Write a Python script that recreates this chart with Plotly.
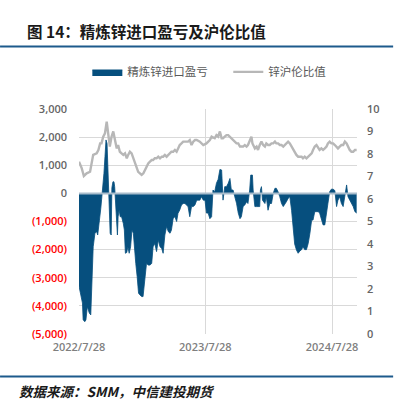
import plotly.graph_objects as go

# ---------------- data ----------------
profit_dates = [
    "2022-07-28","2022-08-03","2022-08-07","2022-08-09","2022-08-14","2022-08-17","2022-08-21","2022-08-24",
    "2022-08-27","2022-08-31","2022-09-03","2022-09-07","2022-09-12","2022-09-17","2022-09-20","2022-09-23",
    "2022-09-27","2022-09-29","2022-10-02","2022-10-04","2022-10-08","2022-10-11","2022-10-14","2022-10-17",
    "2022-10-20","2022-10-22","2022-10-23","2022-10-26","2022-10-29","2022-10-31","2022-11-03","2022-11-06",
    "2022-11-08","2022-11-10","2022-11-13","2022-11-16","2022-11-18","2022-11-21","2022-11-24","2022-11-28",
    "2022-12-03","2022-12-06","2022-12-09","2022-12-13","2022-12-16","2022-12-20","2022-12-24","2022-12-28",
    "2023-01-01","2023-01-05","2023-01-08","2023-01-12","2023-01-16","2023-01-20","2023-01-25","2023-01-29",
    "2023-02-01","2023-02-04","2023-02-08","2023-02-13","2023-02-18","2023-02-23","2023-02-27","2023-03-04",
    "2023-03-09","2023-03-14","2023-03-19","2023-03-24","2023-03-28","2023-04-02","2023-04-07","2023-04-12",
    "2023-04-17","2023-04-21","2023-04-26","2023-05-01","2023-05-06","2023-05-10","2023-05-15","2023-05-20",
    "2023-05-25","2023-05-30","2023-06-04","2023-06-08","2023-06-13","2023-06-18","2023-06-23","2023-06-28",
    "2023-07-03","2023-07-07","2023-07-12","2023-07-17","2023-07-22","2023-07-27","2023-07-31","2023-08-05",
    "2023-08-10","2023-08-15","2023-08-19","2023-08-24","2023-08-29","2023-09-03","2023-09-08","2023-09-13",
    "2023-09-15","2023-09-17","2023-09-22","2023-09-27","2023-10-02","2023-10-07","2023-10-11","2023-10-16",
    "2023-10-21","2023-10-26","2023-10-31","2023-11-05","2023-11-09","2023-11-14","2023-11-19","2023-11-24",
    "2023-11-28","2023-12-03","2023-12-06","2023-12-11","2023-12-13","2023-12-18","2023-12-23","2023-12-27",
    "2024-01-01","2024-01-03","2024-01-06","2024-01-09","2024-01-16","2024-01-20","2024-01-25","2024-01-30",
    "2024-02-04","2024-02-09","2024-02-14","2024-02-18","2024-02-23","2024-02-28","2024-03-04","2024-03-09",
    "2024-03-13","2024-03-18","2024-03-23","2024-03-28","2024-04-02","2024-04-07","2024-04-11","2024-04-16",
    "2024-04-21","2024-04-26","2024-05-01","2024-05-05","2024-05-10","2024-05-15","2024-05-20","2024-05-25",
    "2024-05-30","2024-06-03","2024-06-08","2024-06-13","2024-06-18","2024-06-22","2024-06-27","2024-07-02",
    "2024-07-07","2024-07-12","2024-07-16","2024-07-21","2024-07-26","2024-07-31","2024-08-05","2024-08-10",
    "2024-08-14","2024-08-19","2024-08-24","2024-08-29","2024-09-03","2024-09-08","2024-09-12","2024-09-17",
    "2024-09-22","2024-09-27","2024-10-02","2024-10-07",
]
profit_values = [
    -3300,-3670,-3900,-4500,-4560,-4500,-4030,-4150,
    -4260,-4320,-2960,-1900,-1420,-1360,-1480,-1190,
    -830,-530,-120,120,710,1300,1900,1780,
    600,0,-830,-1420,-1480,200,410,410,
    240,-120,-830,-1480,-830,-590,-830,-830,
    -1070,-1300,-2130,-2100,-1900,-2130,-1900,-1300,
    -1420,-2250,-2490,-2960,-3550,-3610,-3670,-3670,
    -3320,-2730,-2490,-2550,-2550,-2490,-1900,-1780,
    -2070,-1660,-1900,-1960,-2130,-1480,-1180,-1360,
    -1420,-1300,-890,-830,-1000,-710,-590,-410,
    -360,-360,-410,-470,-830,-470,-470,-410,
    -240,-240,-240,-120,-240,-240,-700,-700,
    -900,-830,120,60,360,500,850,830,
    100,-240,240,240,360,530,120,120,
    -120,-350,-700,-900,-830,-470,-410,-300,
    -360,120,650,650,120,-470,-470,-470,
    -470,120,240,-240,-360,-120,-600,-360,
    -360,0,180,180,60,-120,-360,-470,
    -410,-300,-180,-120,-600,-1300,-1800,-2010,
    -2130,-2050,-2000,-1900,-2000,-2000,-1780,-1420,
    -950,-950,-650,-650,-650,-700,-950,-1120,
    -1120,-600,-360,60,150,150,100,-470,
    -240,-120,-360,-470,0,300,-120,-240,
    -360,-470,-650,-700,
]

ratio_dates = [
    "2022-07-28","2022-08-05","2022-08-11","2022-08-19","2022-08-29","2022-09-03","2022-09-07","2022-09-17",
    "2022-09-22","2022-09-27","2022-10-01","2022-10-06","2022-10-11","2022-10-16","2022-10-21","2022-10-25",
    "2022-10-30","2022-11-04","2022-11-09","2022-11-14","2022-11-18","2022-11-23","2022-11-28","2022-12-03",
    "2022-12-08","2022-12-13","2022-12-17","2022-12-22","2022-12-27","2023-01-01","2023-01-06","2023-01-10",
    "2023-01-15","2023-01-20","2023-01-25","2023-01-30","2023-02-03","2023-02-08","2023-02-13","2023-02-18",
    "2023-02-23","2023-02-27","2023-03-04","2023-03-09","2023-03-14","2023-03-19","2023-03-24","2023-03-28",
    "2023-04-02","2023-04-07","2023-04-12","2023-04-17","2023-04-21","2023-04-26","2023-05-01","2023-05-06",
    "2023-05-10","2023-05-15","2023-05-20","2023-05-25","2023-05-30","2023-06-04","2023-06-08","2023-06-13",
    "2023-06-18","2023-06-23","2023-06-28","2023-07-03","2023-07-12","2023-07-22","2023-07-31","2023-08-10",
    "2023-08-15","2023-08-24","2023-08-29","2023-09-03","2023-09-08","2023-09-13","2023-09-17","2023-09-22",
    "2023-09-27","2023-10-02","2023-10-07","2023-10-11","2023-10-16","2023-10-21","2023-10-26","2023-10-31",
    "2023-11-05","2023-11-09","2023-11-14","2023-11-19","2023-11-24","2023-11-28","2023-12-03","2023-12-08",
    "2023-12-11","2023-12-15","2023-12-18","2023-12-23","2023-12-27","2024-01-01","2024-01-06","2024-01-11",
    "2024-01-16","2024-01-20","2024-01-25","2024-01-30","2024-02-04","2024-02-09","2024-02-14","2024-02-18",
    "2024-02-23","2024-02-28","2024-03-04","2024-03-09","2024-03-13","2024-03-18","2024-03-23","2024-03-28",
    "2024-04-02","2024-04-07","2024-04-11","2024-04-16","2024-04-21","2024-04-26","2024-05-01","2024-05-05",
    "2024-05-10","2024-05-15","2024-05-20","2024-05-25","2024-05-30","2024-06-03","2024-06-08","2024-06-13",
    "2024-06-18","2024-06-22","2024-06-27","2024-07-02","2024-07-07","2024-07-12","2024-07-16","2024-07-21",
    "2024-07-26","2024-07-31","2024-08-05","2024-08-10","2024-08-14","2024-08-19","2024-08-24","2024-08-29",
    "2024-09-03","2024-09-08","2024-09-12","2024-09-17","2024-09-22","2024-09-27","2024-10-02","2024-10-07",
]
ratio_values = [
    7.66,7.36,7.02,7.14,7.21,7.58,7.96,8.03,
    8.18,8.47,8.47,8.77,8.92,9.44,8.77,8.33,
    8.77,9.00,8.62,8.25,8.40,8.10,8.03,7.96,
    8.03,7.81,7.96,8.10,8.03,7.81,7.51,7.36,
    7.21,7.14,7.07,7.14,7.29,7.43,7.58,7.66,
    7.73,7.73,7.81,7.81,7.88,7.81,7.88,7.88,
    7.96,7.88,7.96,8.03,8.10,8.10,8.18,8.10,
    8.25,8.40,8.47,8.55,8.55,8.55,8.55,8.62,
    8.40,8.55,8.62,8.62,8.55,8.40,8.47,8.62,
    8.77,8.70,8.84,8.77,9.00,8.70,8.70,8.77,
    8.84,8.84,8.77,8.70,8.62,8.55,8.47,8.47,
    8.33,8.33,8.33,8.40,8.33,8.40,8.55,8.77,
    8.47,8.33,8.25,8.33,8.18,8.40,8.55,8.40,
    8.33,8.47,8.40,8.40,8.47,8.47,8.55,8.47,
    8.47,8.40,8.40,8.33,8.40,8.47,8.55,8.47,
    8.33,8.18,8.10,7.96,7.88,7.88,7.88,7.81,
    7.88,7.81,7.88,7.96,8.03,8.18,8.33,8.40,
    8.25,8.18,8.25,8.18,8.25,8.33,8.47,8.55,
    8.47,8.47,8.40,8.33,8.25,8.33,8.40,8.40,
    8.55,8.47,8.33,8.18,8.10,8.10,8.18,8.18,
]

left_tick_values = [3000, 2000, 1000, 0, -1000, -2000, -3000, -4000, -5000]
left_tick_labels = ["3,000", "2,000", "1,000", "0", "(1,000)", "(2,000)", "(3,000)", "(4,000)", "(5,000)"]
x_tick_values = ["2022-07-28", "2023-07-28", "2024-07-28"]
x_tick_labels = ["2022/7/28", "2023/7/28", "2024/7/28"]

series_names = ["精炼锌进口盈亏", "锌沪伦比值"]
title_text = "图 14：精炼锌进口盈亏及沪伦比值"
source_text = "数据来源：SMM，中信建投期货"

# ---------------- styles ----------------
BLUE = "#064f7e"
GRAY_LINE = "#b7b7b7"
TICK_GRAY = "#656565"
RED = "#ff0000"
GRID = "#d9d9d9"
CJK = "Noto Sans CJK SC"
NUM = "Open Sans"

tick_text_colored = [
    (f"<span style='color:{RED}'>{t}</span>" if v < 0 else t)
    for v, t in zip(left_tick_values, left_tick_labels)
]

fig = go.Figure()
fig.add_trace(go.Scatter(
    x=profit_dates, y=profit_values, name=series_names[0],
    mode="lines", fill="tozeroy", fillcolor=BLUE,
    line=dict(color=BLUE, width=0.8), yaxis="y", legend="legend",
))
fig.add_trace(go.Scatter(
    x=ratio_dates, y=ratio_values, name=series_names[1],
    mode="lines", line=dict(color=GRAY_LINE, width=2.4), yaxis="y2", legend="legend2",
))

legend_common = dict(
    orientation="h", xanchor="left", y=1.165, yanchor="middle",
    font=dict(family=CJK, size=11.5, color="#595959"),
    itemwidth=30, bgcolor="rgba(0,0,0,0)",
)

fig.update_layout(
    width=396, height=405,
    margin=dict(l=79, r=39, t=109, b=71),
    paper_bgcolor="white", plot_bgcolor="white",
    showlegend=True,
    legend=dict(x=0.03, **legend_common),
    legend2=dict(x=0.537, **legend_common),
    title=dict(
        text=title_text, xref="container", yref="container",
        x=27/396, xanchor="left", y=1-33/405, yanchor="middle",
        font=dict(family=CJK, size=15.5, color="#1a1a1a", weight="bold"),
    ),
    xaxis=dict(
        type="date", range=["2022-07-28", "2024-10-08"],
        tickvals=x_tick_values, ticktext=x_tick_labels,
        showgrid=True, gridcolor=GRID, gridwidth=1,
        showline=False, zeroline=False, ticks="",
        tickfont=dict(family=NUM, size=11, color="#7f7f7f", weight=600),
        ticklabelstandoff=5,
    ),
    yaxis=dict(
        range=[-5000, 3000], tickvals=left_tick_values, ticktext=tick_text_colored,
        showgrid=True, gridcolor=GRID, gridwidth=1, zeroline=False,
        showline=False, ticks="",
        tickfont=dict(family=NUM, size=11, color=TICK_GRAY, weight=600),
        ticklabelstandoff=11,
    ),
    yaxis2=dict(
        range=[0, 10], dtick=1, overlaying="y", side="right",
        showgrid=False, zeroline=False, showline=False, ticks="",
        tickfont=dict(family=NUM, size=11, color=TICK_GRAY, weight=600),
        ticklabelstandoff=9,
    ),
    shapes=[
        dict(type="line", xref="paper", yref="y", x0=0, x1=1, y0=0, y1=0,
             line=dict(color="#a8bccb", width=2), layer="above"),
        dict(type="line", xref="paper", yref="paper", x0=-0.284, x1=1.13,
             y0=(334-46.5)/225, y1=(334-46.5)/225, line=dict(color="#1d5a8c", width=2)),
        dict(type="line", xref="paper", yref="paper", x0=-0.284, x1=1.13,
             y0=(334-376.5)/225, y1=(334-376.5)/225, line=dict(color="#1d5a8c", width=2)),
    ],
    annotations=[
        dict(text=f"<i><b>{source_text}</b></i>", xref="paper", yref="paper",
             x=(17-79)/278, y=(334-391)/225, xanchor="left", yanchor="middle",
             showarrow=False, font=dict(family=CJK, size=13.5, color="#1a1a1a")),
    ],
)

fig.write_html(
    "out.html",
    config={"displayModeBar": False},
    post_script="document.body.style.margin='0';document.body.style.overflow='hidden';",
)
